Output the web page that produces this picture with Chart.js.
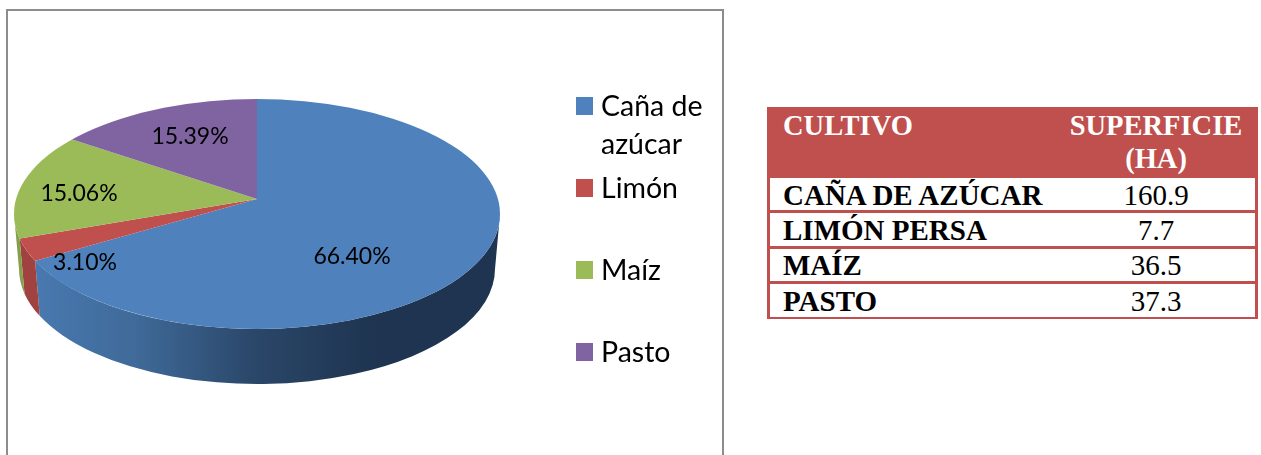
<!DOCTYPE html>
<html lang="es">
<head>
    <meta charset="UTF-8">
    <title>Superficie por cultivo</title>
    <script src="https://cdn.jsdelivr.net/npm/chart.js"></script>
    <style>
        html, body { margin: 0; background: white; width: 1261px; height: 455px; overflow: hidden; }
        #frame { position: absolute; left: 6px; top: 9px; width: 714px; height: 460px; border: 2px solid #8c8c8c; }
        #pie { position: absolute; left: 0; top: 0; }
        #tabla { position: absolute; left: 767px; top: 107px; width: 491px; height: 212px; background: #C0504D; font-family: "Liberation Serif", serif; color: black; }
        .cell { position: absolute; background: white; left: 3px; width: 485px; }
        .txt { position: absolute; white-space: nowrap; font-size: 29px; line-height: 34px; }
        .name { left: 16px; font-weight: bold; }
        .val { left: 389px; width: 0; display: flex; justify-content: center; }
        .head { color: #fff; font-weight: bold; font-size: 28.5px; }
    </style>
</head>
<body>
    <div id="frame"></div>
    <canvas id="pie" width="1261" height="455"></canvas>
    <div id="tabla"></div>

    <script>
        var categories = ["Caña de azúcar", "Limón", "Maíz", "Pasto"];
        var shares = [66.40, 3.10, 15.06, 15.39];
        var shareLabels = ["66.40%", "3.10%", "15.06%", "15.39%"];
        var colors = ["#4F81BD", "#C0504D", "#9BBB59", "#8064A2"];

        var tableHead = ["CULTIVO", "SUPERFICIE", "(HA)"];
        var crops = ["CAÑA DE AZÚCAR", "LIMÓN PERSA", "MAÍZ", "PASTO"];
        var hectares = ["160.9", "7.7", "36.5", "37.3"];

        // look of the tilted pie (the apex sits above the centre of the rim, as in perspective)
        var rim = { x: 257, y: 214, rx: 243, ry: 115 };
        var apexY = 199;
        var tilt = 0.467;
        var depth = 55;
        var lowerRx = 238;
        var sideColors = ["#1E3450", "#A04240", "#83A04A", "#6A5388"];
        var labelAt = [[352, 257], [85, 263], [79, 194], [190, 137]];
        var legendRows = [
            { box: 97, lines: [["Caña de", 116], ["azúcar", 154]] },
            { box: 179, lines: [["Limón", 198]] },
            { box: 261, lines: [["Maíz", 280]] },
            { box: 343, lines: [["Pasto", 362]] }
        ];

        // where an edge of a slice meets the rim, as an ellipse angle
        function rimAngle(angle) {
            var dx = Math.cos(angle), dy = Math.sin(angle) * tilt;
            var ox = 0, oy = apexY - rim.y;
            var a = dx * dx / (rim.rx * rim.rx) + dy * dy / (rim.ry * rim.ry);
            var b = 2 * (ox * dx / (rim.rx * rim.rx) + oy * dy / (rim.ry * rim.ry));
            var c = ox * ox / (rim.rx * rim.rx) + oy * oy / (rim.ry * rim.ry) - 1;
            var s = (-b + Math.sqrt(b * b - 4 * a * c)) / (2 * a);
            return Math.atan2((oy + s * dy) / rim.ry, (ox + s * dx) / rim.rx);
        }

        function sideFill(ctx, i) {
            if (i > 0) return sideColors[i];
            var g = ctx.createLinearGradient(rim.x - rim.rx, 0, rim.x + rim.rx, 0);
            g.addColorStop(0, "#4B7CB5");
            g.addColorStop(0.25, "#3F6A99");
            g.addColorStop(0.5, "#2A4668");
            g.addColorStop(0.75, "#1E3450");
            g.addColorStop(1, "#1E3450");
            return g;
        }

        var tiltedPie = {
            id: "tiltedPie",
            beforeDatasetsDraw: function(chart) {
                var ctx = chart.ctx;
                var arcs = chart.getDatasetMeta(0).data;

                // side wall
                var prev = rimAngle(arcs[0].startAngle);
                arcs.forEach(function(arc, i) {
                    var t2 = rimAngle(arc.endAngle);
                    while (t2 < prev) t2 += Math.PI * 2;
                    var from = Math.max(prev, 0), to = Math.min(t2, Math.PI);
                    prev = t2;
                    if (from >= to) return;
                    ctx.beginPath();
                    ctx.ellipse(rim.x, rim.y, rim.rx, rim.ry, 0, from, to);
                    ctx.ellipse(rim.x, rim.y + depth, lowerRx, rim.ry, 0, to, from, true);
                    ctx.closePath();
                    ctx.fillStyle = sideFill(ctx, i);
                    ctx.fill();
                });

                // top face: the library's arcs, squashed and cut to the rim
                var grow = 300 / arcs[0].outerRadius;
                ctx.save();
                ctx.beginPath();
                ctx.ellipse(rim.x, rim.y, rim.rx, rim.ry, 0, 0, Math.PI * 2);
                ctx.clip();
                ctx.translate(arcs[0].x, arcs[0].y);
                ctx.scale(grow, grow * tilt);
                ctx.translate(-arcs[0].x, -arcs[0].y);
                arcs.forEach(function(arc) { arc.draw(ctx); });
                ctx.restore();
                return false;
            },
            afterDraw: function(chart) {
                var ctx = chart.ctx;
                ctx.save();
                ctx.fillStyle = "#000";
                ctx.font = "23px Lato";
                ctx.textAlign = "center";
                ctx.textBaseline = "middle";
                shareLabels.forEach(function(t, i) {
                    ctx.fillText(t, labelAt[i][0], labelAt[i][1]);
                });
                ctx.textAlign = "left";
                ctx.textBaseline = "alphabetic";
                ctx.font = "28.5px Lato";
                legendRows.forEach(function(row, i) {
                    ctx.fillStyle = colors[i];
                    ctx.fillRect(576, row.box, 17, 18);
                    ctx.fillStyle = "#000";
                    row.lines.forEach(function(l) { ctx.fillText(l[0], 601, l[1]); });
                });
                ctx.restore();
            }
        };

        new Chart(document.getElementById("pie"), {
            type: "pie",
            data: {
                labels: categories,
                datasets: [{ data: shares, backgroundColor: colors, borderWidth: 0 }]
            },
            options: {
                responsive: false,
                animation: false,
                layout: { padding: { left: 0, top: 0, right: 747, bottom: 57 } },
                plugins: { legend: { display: false }, tooltip: { enabled: false } }
            },
            plugins: [tiltedPie]
        });

        // table on the right
        var tabla = document.getElementById("tabla");
        function addText(cls, text, baseline) {
            var d = document.createElement("div");
            d.className = "txt " + cls;
            d.textContent = text;
            d.style.top = (baseline - 107 - 26) + "px";
            tabla.appendChild(d);
        }
        var rowTops = [178, 213, 249, 284];
        var rowBottoms = [210, 246, 281, 317];
        var rowBase = [204, 239, 274, 310];
        crops.forEach(function(c, i) {
            var cell = document.createElement("div");
            cell.className = "cell";
            cell.style.top = (rowTops[i] - 107) + "px";
            cell.style.height = (rowBottoms[i] - rowTops[i]) + "px";
            tabla.appendChild(cell);
            addText("name", c, rowBase[i]);
            addText("val", hectares[i], rowBase[i]);
        });
        addText("name head", tableHead[0], 135);
        addText("val head", tableHead[1], 135);
        addText("val head", tableHead[2], 168);
    </script>
</body>
</html>
